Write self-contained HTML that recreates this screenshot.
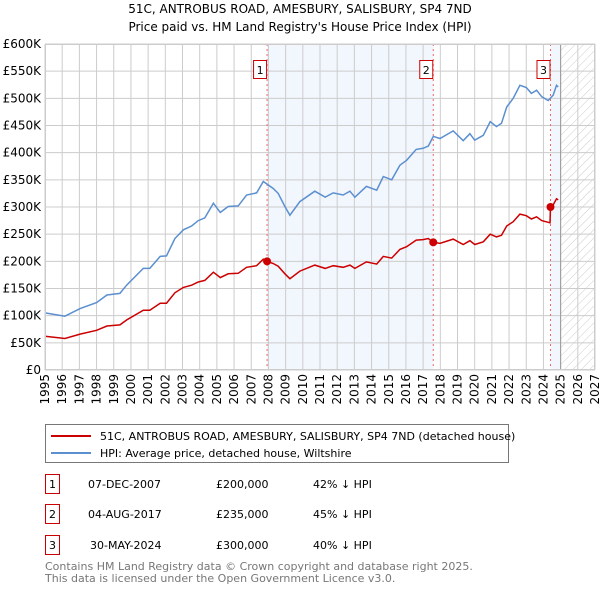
<!DOCTYPE html>
<html><head><meta charset="utf-8"><style>
body{margin:0;background:#fff;font-family:"DejaVu Sans","Liberation Sans",sans-serif;}
svg text{font-family:"DejaVu Sans","Liberation Sans",sans-serif;}
</style></head><body>
<svg id="chart" width="600" height="590" viewBox="0 0 600 590" xmlns="http://www.w3.org/2000/svg">
<defs><pattern id="hatch" width="6" height="6" patternUnits="userSpaceOnUse" patternTransform="rotate(45)"><line x1="0" y1="0" x2="0" y2="6" stroke="#ccc" stroke-width="1"/></pattern></defs>
<text x="300" y="13" text-anchor="middle" font-size="12">51C, ANTROBUS ROAD, AMESBURY, SALISBURY, SP4 7ND</text>
<text x="300" y="31" text-anchor="middle" font-size="12">Price paid vs. HM Land Registry's House Price Index (HPI)</text>
<g id="plot"></g>
<g>
<rect x="45.5" y="424.5" width="463" height="38" fill="#fff" stroke="#777"/>
<line x1="51" y1="436" x2="91" y2="436" stroke="#cc0000" stroke-width="2"/>
<text x="100" y="440" font-size="11">51C, ANTROBUS ROAD, AMESBURY, SALISBURY, SP4 7ND (detached house)</text>
<line x1="51" y1="453" x2="91" y2="453" stroke="#5b8fd0" stroke-width="2"/>
<text x="100" y="457" font-size="11">HPI: Average price, detached house, Wiltshire</text>
</g>
<g font-size="11">
<rect x="45.5" y="474.5" width="14" height="19" fill="#fff" stroke="#cc0000"/><text x="52.5" y="488" text-anchor="middle">1</text>
<text x="88" y="488">07-DEC-2007</text><text x="216" y="488">£200,000</text><text x="313" y="488">42% ↓ HPI</text>
<rect x="45.5" y="504.5" width="14" height="19" fill="#fff" stroke="#cc0000"/><text x="52.5" y="518" text-anchor="middle">2</text>
<text x="88" y="518">04-AUG-2017</text><text x="216" y="518">£235,000</text><text x="313" y="518">45% ↓ HPI</text>
<rect x="45.5" y="535.5" width="14" height="19" fill="#fff" stroke="#cc0000"/><text x="52.5" y="549" text-anchor="middle">3</text>
<text x="90" y="549">30-MAY-2024</text><text x="216" y="549">£300,000</text><text x="313" y="549">40% ↓ HPI</text>
</g>
<text x="45" y="570" font-size="11" fill="#777">Contains HM Land Registry data © Crown copyright and database right 2025.</text>
<text x="45" y="582" font-size="11" fill="#777">This data is licensed under the Open Government Licence v3.0.</text>
</svg>
<script>
const hpiYears=[1995,1996.16,1997.04,1998.0,1998.6,1999.36,1999.75,2000.72,2001.1,2001.7,2002.07,2002.56,2003.05,2003.53,2003.92,2004.3,2004.8,2005.2,2005.66,2006.24,2006.73,2007.31,2007.7,2008.28,2008.57,2008.96,2009.25,2009.83,2010.7,2011.3,2011.77,2012.35,2012.74,2013.03,2013.7,2014.3,2014.68,2015.17,2015.65,2016.04,2016.6,2017.0,2017.3,2017.59,2017.98,2018.75,2019.33,2019.72,2020.0,2020.5,2020.9,2021.27,2021.56,2021.86,2022.24,2022.63,2023.0,2023.3,2023.6,2023.9,2024.28,2024.57,2024.76,2024.86];
const hpiValues=[105,99,113,124,138,141,156,187,187,209,210,242,258,265,275,280,307,290,301,302,322,326,347,334,325,301,285,310,329,318,326,322,329,318,338,331,356,350,377,386,406,408,412,430,426,440,422,435,423,432,457,448,454,484,500,524,520,509,515,503,496,506,524,521];
const priceYears=[1995,1996.16,1997.04,1998.0,1998.6,1999.36,1999.75,2000.72,2001.1,2001.7,2002.07,2002.56,2003.05,2003.53,2003.92,2004.3,2004.8,2005.2,2005.66,2006.24,2006.73,2007.31,2007.7,2007.92,2008.28,2008.57,2008.96,2009.25,2009.83,2010.7,2011.3,2011.77,2012.35,2012.74,2013.03,2013.7,2014.3,2014.68,2015.17,2015.65,2016.04,2016.6,2017.0,2017.3,2017.59,2017.98,2018.75,2019.33,2019.72,2020.0,2020.5,2020.9,2021.27,2021.56,2021.86,2022.24,2022.63,2023.0,2023.3,2023.6,2023.9,2024.38,2024.41,2024.57,2024.76,2024.86];
const priceValues=[62,58,66,73,81,83,92,110,110,123,123,142,152,156,162,165,180,170,177,178,189,192,204,200,196,191,177,168,182,193,187,192,189,193,187,199,195,209,206,222,227,239,240,242,235,233,241,231,238,231,236,250,245,248,265,273,287,284,278,282,275,271,300,304,315,313];
const saleYears=[2007.92,2017.59,2024.41];
const saleValues=[200,235,300];
const saleLabels=["1","2","3"];
const yTicks=[0,50,100,150,200,250,300,350,400,450,500,550,600];
const yTickLabels=["£0","£50K","£100K","£150K","£200K","£250K","£300K","£350K","£400K","£450K","£500K","£550K","£600K"];
const xTicks=[1995,1996,1997,1998,1999,2000,2001,2002,2003,2004,2005,2006,2007,2008,2009,2010,2011,2012,2013,2014,2015,2016,2017,2018,2019,2020,2021,2022,2023,2024,2025,2026,2027];

const L=45,R=595,T=44,B=370,X0=1995,X1=2027,YMAX=600,DATA_END=2025.0;
const sx=y=>L+(y-X0)/(X1-X0)*(R-L);
const sy=v=>B-v/YMAX*(B-T);
const NS="http://www.w3.org/2000/svg";
const g=document.getElementById('plot');
function mk(t,a,p){const e=document.createElementNS(NS,t);for(const k in a)e.setAttribute(k,a[k]);(p||g).appendChild(e);return e;}

let e;
e=mk('rect',{x:sx(saleYears[0]),y:T,width:sx(saleYears[1])-sx(saleYears[0]),height:B-T,fill:'#eef3fc',opacity:0.75});


e=mk('rect',{x:sx(saleYears[2]),y:T,width:sx(DATA_END)-sx(saleYears[2]),height:B-T,fill:'#eef3fc',opacity:0.75});


e=mk('rect',{x:sx(DATA_END),y:T,width:R-sx(DATA_END),height:B-T,fill:'url(#hatch)'});



yTicks.forEach((v,i)=>{
  const l=mk('line',{x1:L,x2:R,y1:sy(v),y2:sy(v),stroke:'#ccc','stroke-width':1});
  
  
  const t=mk('text',{x:L-4,y:sy(v)+4,'text-anchor':'end','font-size':12});
  t.textContent=yTickLabels[i];
  
  
});
xTicks.forEach(yr=>{
  const l=mk('line',{x1:sx(yr),x2:sx(yr),y1:T,y2:B,stroke:'#ccc','stroke-width':1});
  
  
  const t=mk('text',{x:0,y:0,'text-anchor':'end','font-size':12,transform:`translate(${sx(yr)+4},${B+4}) rotate(-90)`});
  t.textContent=String(yr);
  
  
});
e=mk('line',{x1:sx(DATA_END),x2:sx(DATA_END),y1:T,y2:B,stroke:'#999','stroke-width':1});



saleYears.forEach((yr,i)=>{
  const l=mk('line',{x1:sx(yr),x2:sx(yr),y1:T,y2:B,stroke:'#e66','stroke-width':1,'stroke-dasharray':'2,3'});
  
  
});

const path=(xs,vs)=>xs.map((x,i)=>(i?'L':'M')+sx(x).toFixed(1)+','+sy(vs[i]).toFixed(1)).join('');
e=mk('path',{d:path(hpiYears,hpiValues),fill:'none',stroke:'#5b8fd0','stroke-width':1.5});


e=mk('path',{d:path(priceYears,priceValues),fill:'none',stroke:'#cc0000','stroke-width':1.5});



saleYears.forEach((yr,i)=>{
  const c=mk('circle',{cx:sx(yr),cy:sy(saleValues[i]),r:4,fill:'#cc0000'});
  
  
  const bx=mk('rect',{x:sx(yr)-13.5,y:60.5,width:13,height:18,fill:'#fff',stroke:'#cc0000'});
  
  
  const t=mk('text',{x:sx(yr)-7,y:74,'text-anchor':'middle','font-size':11});
  t.textContent=saleLabels[i];
  
  
});
e=mk('rect',{x:L+0.5,y:T+0.5,width:R-L-1,height:B-T-1,fill:'none',stroke:'#ccc'});


</script>
</body></html>
